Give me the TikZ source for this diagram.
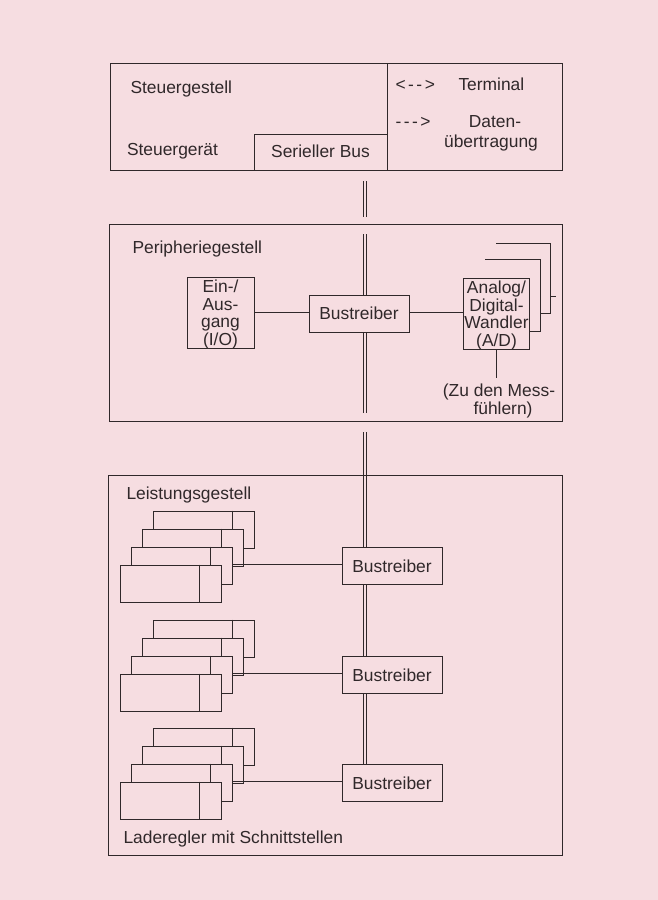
\documentclass[tikz,border=0pt]{standalone}
\usepackage{fontspec}
\setmainfont{Liberation Sans}
\usetikzlibrary{fit,calc}
\definecolor{bgpink}{RGB}{246,221,225}
\definecolor{ink}{RGB}{48,40,42}
\begin{document}
\begin{tikzpicture}[x=1pt,y=-1pt,line width=1pt,color=ink,
  every node/.style={font=\fontsize{17.4}{17.5}\selectfont,text=ink,inner sep=0pt},
  frame/.style={draw,rectangle,inner sep=0pt},
  card/.style={draw,rectangle,fill=bgpink,minimum width=101pt,minimum height=37pt},
  busdrv/.style={draw,rectangle,minimum width=100pt,minimum height=36.5pt},
  bus/.style={double=bgpink,double distance=2.4pt,line width=0.85pt}]
\fill[bgpink] (0,0) rectangle (658,900);
\useasboundingbox (0,0) rectangle (658,900);

% --- Steuergestell ---
\node[frame,fit={(110,63.5)(562,170.5)}] (steuer) {};
\node[frame,fit={(387,63.5)(562,170.5)}] (legend) {};
\node[frame,fit={(254,134)(387,170.5)}] (sbus) {};
\node at ([yshift=1pt]sbus.center) (sbustxt) {Serieller Bus};
\node[anchor=base west] (steuertxt) at (130,93) {Steuergestell};
\node[anchor=base west] (geraet) at (126.5,155) {Steuergerät};
\node[anchor=base west] (arr1) at (395,90.5) {<\kern2.5pt-\kern2.5pt-\kern2.5pt>};
\node[anchor=base west] (term) at (458,90.5) {Terminal};
\node[anchor=base west] (arr2) at (395,127) {-\kern2.5pt-\kern2.5pt-\kern2.5pt>};
\node[anchor=base] (daten) at (495,127.5) {Daten-};
\node[anchor=base] (uebertr) at (491,147.5) {übertragung};

% --- Peripheriegestell ---
\node[frame,fit={(109,224)(562,421.5)}] (peri) {};
\node[anchor=base west] (peritxt) at (132,253) {Peripheriegestell};
\node[frame,fit={(187,277)(254,348)}] (io) {};
\node[align=center] (iotxt) at (220.5,314.6) {Ein-/\\Aus-\\gang\\(I/O)};
\node[busdrv,minimum height=37pt] (pb) at (359,313.5) {Bustreiber};
\node[frame,fit={(463,278)(529.5,349)}] (ad) {};
\node[align=center] (adtxt) at (496.5,315.6) {Analog/\\Digital-\\Wandler\\(A/D)};
\draw (io.east |- 0,312.5) -- (pb.west |- 0,312.5);
\draw (pb.east |- 0,312.5) -- (ad.west |- 0,312.5);
\draw (485,259) -- (540,259) -- (540,331) -- (ad.east |- 0,331);
\draw (496,243) -- (550,243) -- (550,313) -- (540,313);
\draw (550,296) -- (555.5,296);
\coordinate (mess) at (496,378);
\draw (ad.south -| mess) -- (mess);
\node[anchor=base] (mess1) at (499,396) {(Zu den Mess-};
\node[anchor=base] (mess2) at (503,414) {fühlern)};

% --- Leistungsgestell ---
\node[rectangle,inner sep=0pt,fit={(109,475.5)(562,855)}] (leist) {};
\node[anchor=base west] (leisttxt) at (126,499) {Leistungsgestell};
\node[anchor=base west] (lader) at (123,843) {Laderegler mit Schnittstellen};
\foreach \g/\T in {1/511,2/620,3/728}{
  \foreach \k in {1,...,4}{
    \node[card] (c\g\k) at ({203.5-10.7*(\k-1)},{\T+18.5+18*(\k-1)}) {};
    \draw ([xshift=-22.5pt]c\g\k.north east) -- ([xshift=-22.5pt]c\g\k.south east);
  }
}
\node[busdrv] (bt1) at (392,566) {Bustreiber};
\node[busdrv] (bt2) at (392,675) {Bustreiber};
\node[busdrv] (bt3) at (392,783) {Bustreiber};
\foreach \g in {1,2,3}{
  \draw (c\g3.east |- c\g4.north) -- (bt\g.west |- c\g4.north);
}

% --- bus ---
\coordinate (u1) at (365,181);
\coordinate (u2) at (365,217);
\coordinate (u3) at (365,234);
\coordinate (u4) at (365,413);
\coordinate (u5) at (365,432);
\draw[bus] (u1) -- (u2);
\draw[bus] (u3) -- (u3 |- pb.north);
\draw[bus] (u4 |- pb.south) -- (u4);
\draw[bus] (u5) -- (u5 |- bt1.north);
\draw[bus] (u5 |- bt1.south) -- (u5 |- bt2.north);
\draw[bus] (u5 |- bt2.south) -- (u5 |- bt3.north);
\draw (leist.north west) rectangle (leist.south east);
\end{tikzpicture}
\end{document}
